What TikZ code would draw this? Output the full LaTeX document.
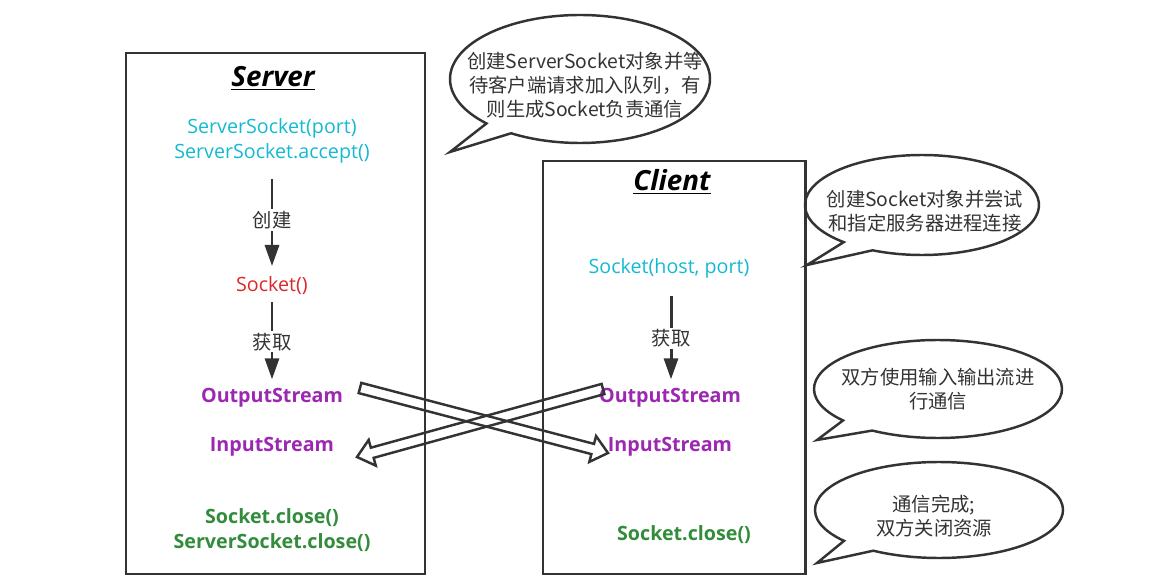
\documentclass[tikz,border=0pt]{standalone}
\usepackage{fontspec}
\setmainfont{Open Sans}
\newfontfamily\cjk{Noto Sans CJK SC}
\usetikzlibrary{arrows.meta,calc}

\definecolor{dark}{RGB}{51,51,51}
\definecolor{sky}{RGB}{20,185,210}
\definecolor{brick}{RGB}{220,40,40}
\definecolor{plum}{RGB}{156,39,176}
\definecolor{leaf}{RGB}{50,140,60}

% hollow fat arrow between two named coordinates
\newcommand\fatarrow[2]{%
  \coordinate (#1-h) at ($(#2)!9pt!(#1)$);
  \draw[fat] ($(#1)!3pt!90:(#2)$) -- ($(#1-h)!3pt!90:(#2)$)
    -- ($(#1-h)!7.6pt!90:(#2)$) -- (#2)
    -- ($(#1-h)!7.6pt!-90:(#2)$) -- ($(#1-h)!3pt!-90:(#2)$)
    -- ($(#1)!3pt!-90:(#2)$) -- cycle;
}

\begin{document}
\begin{tikzpicture}
  [x=0.02cm, y=-0.02cm,
    every node/.style={inner sep=1pt},
    box/.style={draw=dark, line width=1.7pt},
    title/.style={font=\fontsize{15.8}{17}\selectfont\bfseries\itshape},
    code/.style={font=\fontsize{11.2}{14}\selectfont, align=center},
    stream/.style={font=\fontsize{11.2}{14}\selectfont\bfseries, text=plum},
    closer/.style={font=\fontsize{11.2}{14}\selectfont\bfseries, text=leaf, align=center},
    flow/.style={draw=dark, line width=1.7pt, -{Triangle[length=12pt,width=8pt]}},
    verb/.style={font=\cjk\fontsize{11}{13}\selectfont, fill=white, text=dark},
    bubble/.style={draw=dark, line width=1.4pt},
    note/.style={font=\cjk\fontsize{11}{13.6}\selectfont, align=center, text=dark},
    fat/.style={draw=dark, line width=1.4pt},
  ]

  \useasboundingbox (0,0) rectangle (1153,587);

  % server
  \draw[box] (126,53) rectangle (425,574);
  \node[title] (srv) at (273,78) {\underline{Server}};
  \node[code, text=sky] (srvCode) at (272,141) {ServerSocket(port)\\ServerSocket.accept()};
  \node[code, text=brick] (sock) at (272,286) {Socket()};
  \node[stream] (srvOut) at (272,398) {OutputStream};
  \node[stream] (srvIn) at (272,447) {InputStream};
  \node[closer] (srvClose) at (272,530) {Socket.close()\\ServerSocket.close()};

  \draw[flow, shorten <=8pt, shorten >=5pt] (srvCode) -- node[verb] {创建} (sock);
  \draw[flow, shorten <=3pt, shorten >=4pt] (sock) -- node[verb] {获取} (srvOut);

  % client
  \draw[box] (543,161) rectangle (805,574);
  \node[title] (cli) at (672,182) {\underline{Client}};
  \node[code, text=sky] (cliCode) at (669,268) {Socket(host, port)};
  \node[stream] (cliOut) at (670,398) {OutputStream};
  \node[stream] (cliIn) at (670,447) {InputStream};
  \node[closer] (cliClose) at (684,535) {Socket.close()};

  \draw[flow, shorten <=9pt, shorten >=4pt] (cliCode.south -| 671,0) -- node[verb, pos=0.55] {获取} (cliOut.north -| 671,0);

  % data exchange
  \coordinate (outA) at (360,388);
  \coordinate (inA) at (608,453);
  \coordinate (outB) at (603,389);
  \coordinate (inB) at (357,457);
  \fatarrow{outA}{inA}
  \fatarrow{outB}{inB}

  % callouts
  \foreach \cx/\cy/\rx/\ry/\tx/\ty/\a/\b in
    {580/79/130/64/450/152/136/122, 922/205/117/50/807/265/132/115,
     938/389/124/49/817/440/140/122, 939/510/124/48/817/563/140/122}
    \draw[bubble] (\cx,\cy) ++(\a:{\rx} and {\ry})
      arc[start angle=\a, end angle=\b+360, x radius=\rx, y radius=\ry]
      -- (\tx,\ty) -- cycle;

  \node[note] (n1) at (585,85) {创建ServerSocket对象并等\\待客户端请求加入队列，有\\则生成Socket负责通信};
  \node[note] (n2) at (925,211) {创建Socket对象并尝试\\和指定服务器进程连接};
  \node[note] (n3) at (938,389) {双方使用输入输出流进\\行通信};
  \node[note] (n4) at (934,516) {通信完成;\\双方关闭资源};
\end{tikzpicture}
\end{document}
